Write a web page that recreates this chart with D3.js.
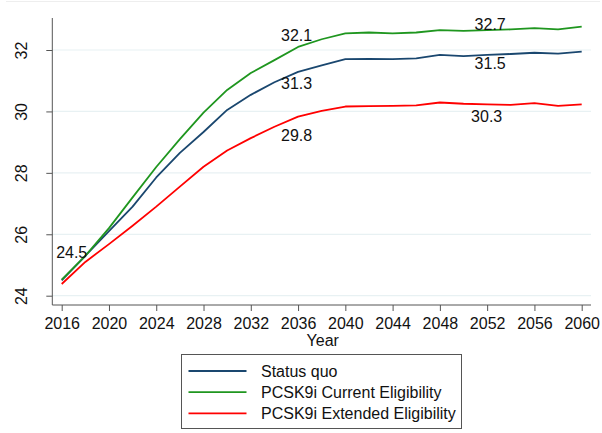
<!DOCTYPE html>
<html>
<head>
<meta charset="utf-8">
<script src="https://cdn.jsdelivr.net/npm/d3@7"></script>
<style>
  body { margin: 0; background: #fff; }
  text { font-family: "Liberation Sans", Arial, sans-serif; fill: #111; }
</style>
</head>
<body>
<div id="chart"></div>
<script>
(function(){

  // ---- data ----
  var years = d3.range(2016, 2061, 2);
  var statusQuo = [24.5, 25.3, 26.1, 26.9, 27.85, 28.65, 29.33, 30.05, 30.54, 30.95, 31.29, 31.5, 31.70,
                   31.71, 31.70, 31.73, 31.84, 31.80, 31.84, 31.87, 31.91, 31.88, 31.95];
  var currentElig = [24.52, 25.3, 26.2, 27.2, 28.19, 29.1, 29.96, 30.70, 31.25, 31.67, 32.1, 32.35, 32.54,
                     32.57, 32.54, 32.57, 32.65, 32.62, 32.65, 32.67, 32.71, 32.67, 32.76];
  var extendedElig = [24.38, 25.10, 25.68, 26.28, 26.90, 27.55, 28.2, 28.73, 29.13, 29.5, 29.83, 30.02, 30.16,
                      30.17, 30.18, 30.2, 30.29, 30.25, 30.23, 30.21, 30.27, 30.18, 30.23];
  var seriesNames = ["Status quo", "PCSK9i Current Eligibility", "PCSK9i Extended Eligibility"];
  var seriesColors = ["#1a476f", "#1f961f", "#ff0000"];
  var yTicks = [24, 26, 28, 30, 32];
  var xTicks = d3.range(2016, 2061, 4);
  // point labels: [year, value shown, series index]
  var labels = [[2016, 24.5, 1], [2036, 32.1, 1], [2036, 31.3, 0], [2036, 29.8, 2],
                [2052, 32.7, 1], [2052, 31.5, 0], [2052, 30.3, 2]];

  var W = 602, H = 433;
  var svg = d3.select("#chart").append("svg").attr("width", W).attr("height", H);

  // faint outer frame line at top
  svg.append("line").attr("x1", 6).attr("x2", 600).attr("y1", 1.5).attr("y2", 1.5)
     .attr("stroke", "#eeeeee");

  var x = d3.scaleLinear().domain([2016, 2060]).range([61.7, 581.7]);
  var y = d3.scaleLinear().domain([24, 32]).range([295.7, 50]);
  var left = 52.3, right = 591, bottom = 305, top = 18;

  // gridlines
  svg.append("g").selectAll("line").data(yTicks).enter().append("line")
     .attr("x1", left).attr("x2", right)
     .attr("y1", function(d){ return y(d); }).attr("y2", function(d){ return y(d); })
     .attr("stroke", "#e8f1f3").attr("stroke-width", 1.2);

  // y axis
  var yAxis = svg.append("g").attr("transform", "translate(" + left + ",0)")
     .call(d3.axisLeft(y).tickValues(yTicks).tickSize(6).tickFormat(d3.format("d")));
  yAxis.select(".domain").attr("d", "M0," + top + "V" + bottom);
  yAxis.selectAll("line").attr("stroke", "#555");
  yAxis.select(".domain").attr("stroke", "#555");
  yAxis.selectAll("text")
     .attr("font-size", 16).attr("fill", "#111")
     .attr("text-anchor", "middle").attr("dy", null).attr("x", null).attr("y", null)
     .attr("transform", "translate(-25.5,0) rotate(-90)");

  // x axis
  var xAxis = svg.append("g").attr("transform", "translate(0," + bottom + ")")
     .call(d3.axisBottom(x).tickValues(xTicks).tickSize(6).tickFormat(d3.format("d")));
  xAxis.select(".domain").attr("d", "M" + left + ",0H" + right).attr("stroke", "#555");
  xAxis.selectAll("line").attr("stroke", "#555");
  xAxis.selectAll("text").attr("font-size", 16).attr("fill", "#111")
     .attr("dy", "0.71em").attr("y", 13);

  svg.append("text").attr("x", (x(2016) + x(2060)) / 2 + 1).attr("y", 345.5)
     .attr("text-anchor", "middle").attr("font-size", 16).text("Year");

  // lines
  var allSeries = [statusQuo, currentElig, extendedElig];
  var line = d3.line()
     .x(function(d, i){ return x(years[i]); })
     .y(function(d){ return y(d); });

  // draw red, blue, then green on top
  [2, 0, 1].forEach(function(k){
    svg.append("path").datum(allSeries[k])
       .attr("fill", "none").attr("stroke", seriesColors[k])
       .attr("stroke-width", 1.8).attr("stroke-linejoin", "round")
       .attr("d", line);
  });

  // point labels, nudged off their line
  var offsets = { "24.5": [10, -27], "32.1": [-1.5, -12], "31.3": [-1.5, 12], "29.8": [-1.5, 18.5],
                  "32.7": [3, -6], "31.5": [3, 8], "30.3": [-0.5, 12] };
  svg.append("g").selectAll("text").data(labels).enter().append("text")
     .attr("x", function(d){ return x(d[0]) + offsets[d[1].toFixed(1)][0]; })
     .attr("y", function(d){
        var idx = years.indexOf(d[0]);
        return y(allSeries[d[2]][idx]) + offsets[d[1].toFixed(1)][1];
     })
     .attr("dy", "0.35em")
     .attr("text-anchor", "middle").attr("font-size", 16)
     .text(function(d){ return d[1].toFixed(1); });

  // legend
  var lg = svg.append("g");
  lg.append("rect").attr("x", 181.5).attr("y", 354.5).attr("width", 280).attr("height", 74)
     .attr("fill", "#fff").attr("stroke", "#555").attr("stroke-width", 1);
  var rows = lg.selectAll("g.row").data(seriesNames).enter().append("g")
     .attr("transform", function(d, i){ return "translate(0," + (371 + i * 21.2) + ")"; });
  rows.append("line").attr("x1", 188.5).attr("x2", 246.5).attr("y1", 0).attr("y2", 0)
     .attr("stroke", function(d, i){ return seriesColors[i]; }).attr("stroke-width", 1.8);
  rows.append("text").attr("x", 261).attr("y", 0).attr("dy", "0.36em")
     .attr("font-size", 16).text(function(d){ return d; });

})();
</script>
</body>
</html>
